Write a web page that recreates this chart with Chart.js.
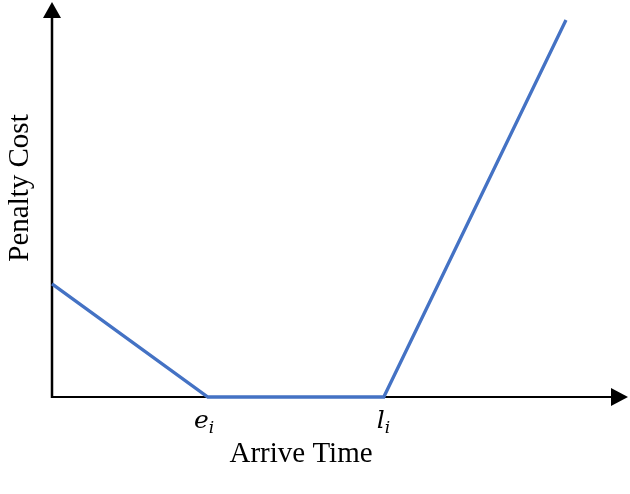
<!DOCTYPE html>
<html>
<head>
<meta charset="utf-8">
<script src="https://cdn.jsdelivr.net/npm/chart.js@4/dist/chart.umd.min.js"></script>
<style>
  html, body { margin: 0; padding: 0; background: #fff; }
  #wrap { width: 630px; height: 494px; }
</style>
</head>
<body>
<div id="wrap"><canvas id="c"></canvas></div>
<script>
// arrive time (x) and penalty cost (y) of the piecewise penalty curve
const arriveTime = [0, 27.2, 57.9, 89.7];
const penaltyCost = [28.7, 0, 0, 95.7];
// tick labels: earliest / latest time of the window
const tickValues = [27.2, 57.9];
const tickNames = [['e', 'i'], ['l', 'i']];
const xTitle = 'Arrive Time';
const yTitle = 'Penalty Cost';

const serif = '"Liberation Serif", "DejaVu Serif", serif';
const mathFont = '"DejaVu Serif", "Liberation Serif", serif';

// axes with arrow heads, drawn under the curve
const axesPlugin = {
  id: 'arrowAxes',
  beforeDatasetsDraw (chart) {
    const { ctx, chartArea: a } = chart;
    const x0 = chart.scales.x.getPixelForValue(0);
    const y0 = chart.scales.y.getPixelForValue(0);
    ctx.save();
    ctx.strokeStyle = '#000';
    ctx.fillStyle = '#000';
    ctx.lineWidth = 2.5;
    // y axis
    ctx.beginPath();
    ctx.moveTo(x0, y0 + 1);
    ctx.lineTo(x0, a.top + 14);
    ctx.stroke();
    ctx.beginPath();
    ctx.moveTo(x0, a.top - 1);
    ctx.lineTo(x0 - 9, a.top + 15);
    ctx.lineTo(x0 + 9, a.top + 15);
    ctx.closePath();
    ctx.fill();
    // x axis
    ctx.lineWidth = 2;
    ctx.beginPath();
    ctx.moveTo(x0 - 1, y0);
    ctx.lineTo(a.right - 14, y0);
    ctx.stroke();
    ctx.beginPath();
    ctx.moveTo(a.right + 3, y0);
    ctx.lineTo(a.right - 14, y0 - 9);
    ctx.lineTo(a.right - 14, y0 + 9);
    ctx.closePath();
    ctx.fill();
    ctx.restore();
  },
  afterDraw (chart) {
    const { ctx } = chart;
    const xs = chart.scales.x;
    const y0 = chart.scales.y.getPixelForValue(0);
    ctx.save();
    ctx.fillStyle = '#000';
    // tick labels e_i, l_i
    tickValues.forEach((v, i) => {
      const px = xs.getPixelForValue(v);
      ctx.font = 'italic 25px ' + mathFont;
      ctx.textAlign = 'right';
      ctx.textBaseline = 'alphabetic';
      ctx.fillText(tickNames[i][0], px + 1, y0 + 31);
      ctx.font = 'italic 17px ' + mathFont;
      ctx.textAlign = 'left';
      ctx.fillText(tickNames[i][1], px + 1, y0 + 36);
    });
    // axis titles
    ctx.font = '29px ' + serif;
    ctx.textAlign = 'center';
    ctx.fillText(xTitle, 301, 462);
    ctx.translate(28, 188);
    ctx.rotate(-Math.PI / 2);
    ctx.font = '29px ' + serif;
    ctx.fillText(yTitle, 0, 0);
    ctx.restore();
  }
};

new Chart(document.getElementById('c'), {
  type: 'scatter',
  data: {
    datasets: [{
      data: arriveTime.map((x, i) => ({ x, y: penaltyCost[i] })),
      showLine: true,
      borderColor: '#4472C4',
      borderWidth: 3.3,
      pointRadius: 0,
      tension: 0,
      clip: false
    }]
  },
  options: {
    responsive: true,
    maintainAspectRatio: false,
    animation: false,
    layout: { padding: { left: 52, right: 5, top: 3, bottom: 97 } },
    plugins: { legend: { display: false }, tooltip: { enabled: false } },
    scales: {
      x: { type: 'linear', min: 0, max: 100, display: false },
      y: { type: 'linear', min: 0, max: 100, display: false }
    }
  },
  plugins: [axesPlugin]
});
</script>
</body>
</html>
